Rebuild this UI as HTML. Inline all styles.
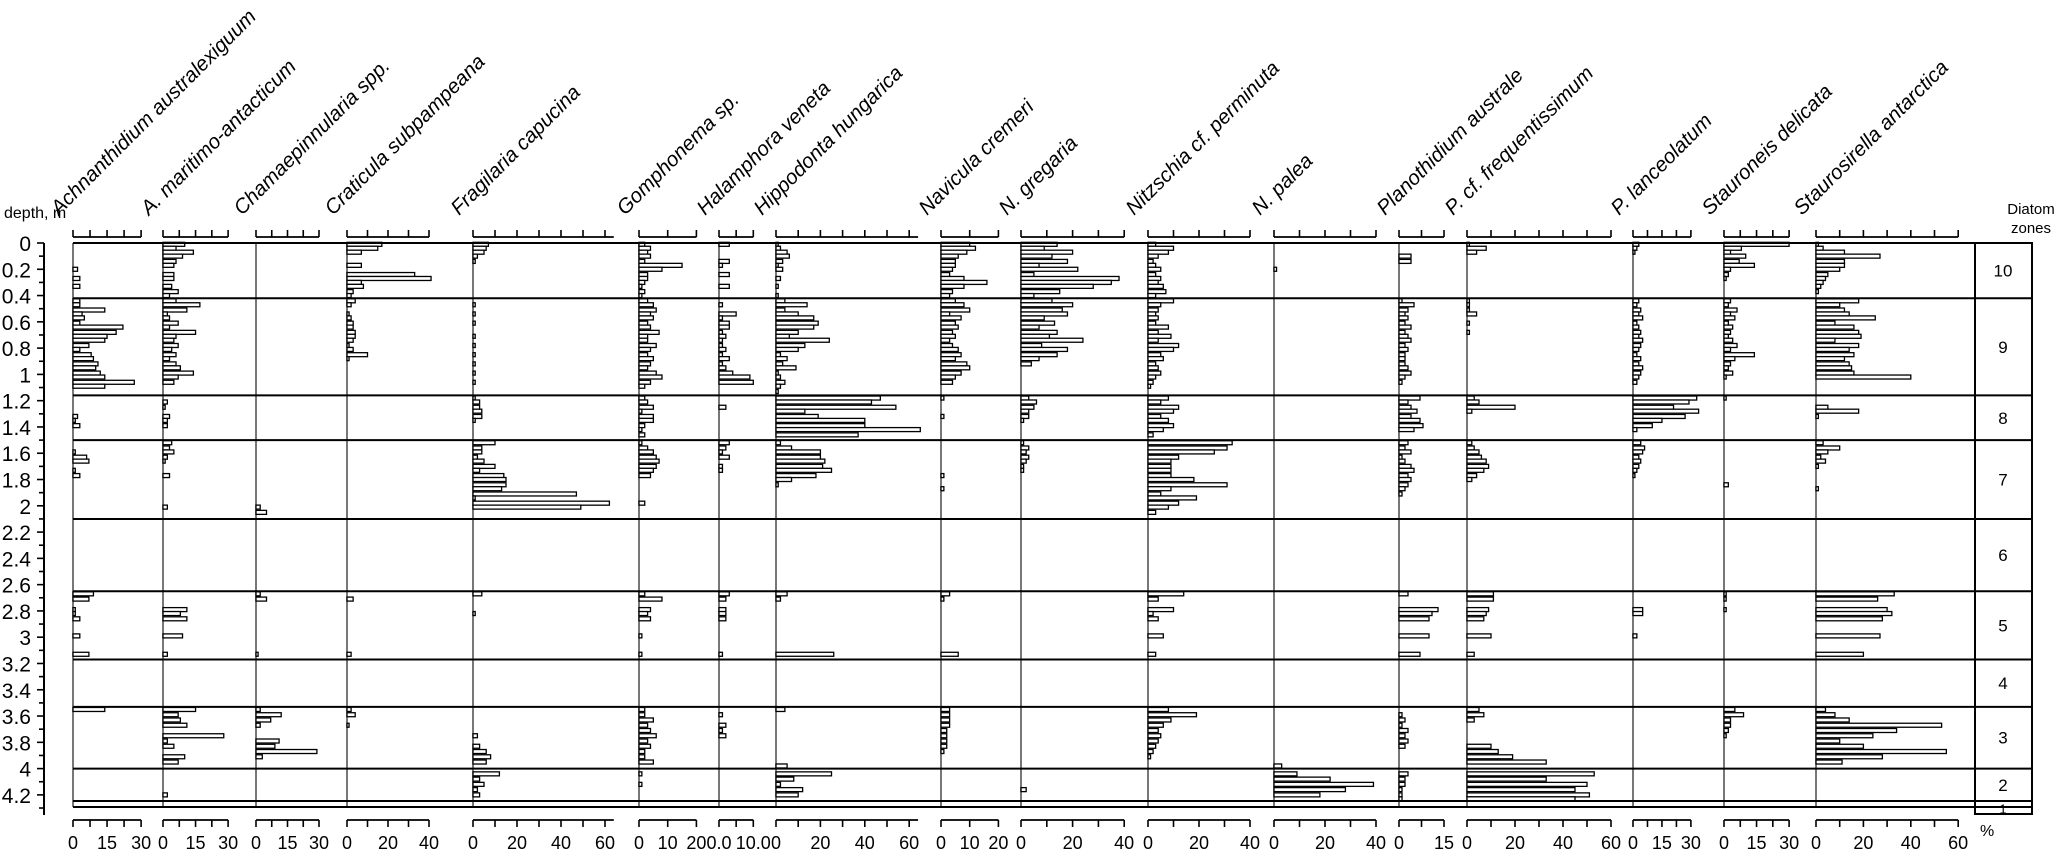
<!DOCTYPE html>
<html><head><meta charset="utf-8"><style>
html,body{margin:0;padding:0;background:#fff;}
svg{display:block;font-family:"Liberation Sans",sans-serif;}
</style></head><body>
<svg id="chart" width="2067" height="864" viewBox="0 0 2067 864" xmlns="http://www.w3.org/2000/svg"></svg>
<script>
// sample depths (m), grouped by diatom zone: Z10, Z9, Z8, Z7, Z5, Z3, Z2
const depths = [
 0.01,0.04,0.07,0.10,0.14,0.17,0.20,0.24,0.27,0.30,0.33,0.37,0.40,
 0.44,0.47,0.51,0.54,0.57,0.61,0.64,0.68,0.71,0.74,0.78,0.81,0.85,0.88,0.92,0.95,0.99,1.02,1.06,1.09,1.13,
 1.18,1.21,1.25,1.28,1.32,1.35,1.39,1.42,1.46,
 1.52,1.56,1.59,1.63,1.66,1.70,1.73,1.77,1.80,1.84,1.87,1.91,1.94,1.98,2.01,2.05,
 2.67,2.71,2.79,2.82,2.86,2.99,3.13,
 3.55,3.59,3.63,3.67,3.71,3.75,3.79,3.83,3.87,3.91,3.95,3.98,
 4.04,4.08,4.12,4.16,4.20,4.23];
const speciesNames = ["Achnanthidium australexiguum","A. maritimo-antacticum","Chamaepinnularia spp.","Craticula subpampeana","Fragilaria capucina","Gomphonema sp.","Halamphora veneta","Hippodonta hungarica","Navicula cremeri","N. gregaria","Nitzschia cf. perminuta","N. palea","Planothidium australe","P. cf. frequentissimum","P. lanceolatum","Stauroneis delicata","Staurosirella antarctica"];
const vAchn = [0,0,0,0,0,0,2,0,3,0,3,0,0, 3,3,14,4,5,3,22,19,15,14,7,3,8,9,11,10,12,14,27,14,0, 0,0,0,0,2,1,3,0,0, 0,0,1,6,7,0,1,3,0,0,0,0,0,0,0,0, 9,7,1,1,3,3,7, 14,0,0,0,0,0,0,0,0,0,0,0, 0,0,0,0,0,0];
const vAmar = [10,6,14,9,6,5,0,5,5,0,4,7,3, 6,17,11,2,3,7,3,15,6,5,7,4,6,3,6,8,14,7,5,0,0, 0,2,1,0,3,2,2,0,0, 4,3,5,2,1,0,0,3,0,0,0,0,0,0,2,0, 0,0,11,8,11,9,2, 15,7,8,11,0,28,2,5,0,10,7,0, 0,0,0,0,2,0];
const vCham = [0,0,0,0,0,0,0,0,0,0,0,0,0, 0,0,0,0,0,0,0,0,0,0,0,0,0,0,0,0,0,0,0,0,0, 0,0,0,0,0,0,0,0,0, 0,0,0,0,0,0,0,0,0,0,0,0,0,0,2,5, 2,5,0,0,0,0,1, 2,12,7,2,0,0,11,9,29,3,0,0, 0,0,0,0,0,0];
const vCrat = [17,15,7,0,0,7,0,33,41,7,8,3,2, 4,2,0,1,2,3,3,4,4,3,1,3,10,1,0,0,0,0,0,0,0, 0,0,0,0,0,0,0,0,0, 0,0,0,0,0,0,0,0,0,0,0,0,0,0,0,0, 0,3,0,0,0,0,2, 2,4,0,1,0,0,0,0,0,0,0,0, 0,0,0,0,0,0];
const vFrag = [7,6,5,2,1,0,0,0,0,0,0,0,0, 0,1,0,1,0,1,0,0,1,0,1,0,1,0,1,0,1,0,1,0,0, 1,3,3,4,4,1,0,0,0, 10,4,4,2,5,10,3,14,15,15,13,47,1,62,49,0, 4,0,0,1,0,0,0, 0,0,0,0,0,2,0,3,6,8,6,0, 12,3,5,2,3,0];
const vGomp = [2,4,3,4,2,15,8,3,3,2,1,2,1, 3,5,6,4,5,3,4,7,3,3,6,4,3,5,4,3,6,8,4,2,0, 2,3,5,1,5,5,2,1,2, 1,3,5,6,7,6,5,4,0,0,0,0,0,2,0,0, 2,8,4,3,4,1,1, 2,2,5,3,4,6,3,4,2,2,5,0, 1,0,1,0,0,0];
const vHala = [3,0,0,0,3,1,0,3,0,0,3,0,0, 0,1,0,5,1,3,3,1,2,1,1,2,1,3,1,2,4,9,10,0,0, 0,0,2,0,0,0,0,0,0, 3,2,1,3,0,1,1,0,0,0,0,0,0,0,0,0, 3,2,2,2,2,0,1, 0,1,0,2,1,2,0,0,0,0,0,0, 0,0,0,0,0,0];
const vHipp = [1,2,5,6,3,1,3,0,2,0,1,0,1, 4,14,4,10,17,19,17,10,6,24,13,10,2,5,3,9,1,2,4,2,1, 47,43,54,13,19,40,40,65,37, 2,7,20,20,22,21,25,18,7,1,0,0,0,0,0,0, 5,2,0,0,0,0,26, 4,0,0,0,0,0,0,0,0,0,0,5, 25,8,2,12,10,0];
const vNavi = [10,12,9,6,5,5,4,3,8,16,8,4,3, 5,8,10,3,7,5,6,4,5,3,4,6,7,5,9,10,7,5,4,0,0, 1,0,0,0,1,0,0,0,0, 0,0,0,0,0,0,0,1,0,0,1,0,0,0,0,0, 3,1,0,0,0,0,6, 3,3,3,3,2,2,2,2,1,0,0,0, 0,0,0,0,0,0];
const vNgre = [14,9,20,12,18,7,22,5,38,35,28,15,5, 12,20,16,18,9,13,7,14,11,24,8,18,14,7,4,0,0,0,0,0,0, 3,6,5,3,3,1,0,0,0, 1,3,2,3,2,1,1,0,0,0,0,0,0,0,0,0, 0,0,0,0,0,0,0, 0,0,0,0,0,0,0,0,0,0,0,0, 0,0,0,2,0,0];
const vNitz = [3,10,8,4,2,3,5,3,5,4,6,7,3, 10,5,4,3,4,3,8,4,9,4,12,10,5,6,3,4,5,3,2,1,0, 8,5,12,10,5,8,10,6,2, 33,31,26,12,9,9,9,9,18,31,9,5,19,12,8,3, 14,4,10,2,4,6,3, 8,19,9,6,4,5,4,3,2,1,0,0, 0,0,0,0,0,0];
const vNpal = [0,0,0,0,0,0,1,0,0,0,0,0,0, 0,0,0,0,0,0,0,0,0,0,0,0,0,0,0,0,0,0,0,0,0, 0,0,0,0,0,0,0,0,0, 0,0,0,0,0,0,0,0,0,0,0,0,0,0,0,0, 0,0,0,0,0,0,0, 0,0,0,0,0,0,0,0,0,0,0,3, 9,22,39,28,18,0];
const vPlan = [0,0,0,4,4,0,0,0,0,0,0,0,0, 1,5,3,2,3,2,4,2,3,4,2,3,2,2,2,3,4,2,1,0,0, 7,3,4,6,4,7,8,5,0, 3,2,4,1,2,4,5,3,4,3,2,1,0,0,0,0, 3,0,13,11,10,10,7, 0,1,2,1,3,2,3,2,0,0,0,0, 3,2,2,1,1,1];
const vPfre = [1,8,4,0,0,0,0,0,0,0,0,0,0, 1,1,1,4,0,1,0,1,0,0,0,0,0,0,0,0,0,0,0,0,0, 3,5,20,2,0,0,0,0,0, 2,3,5,6,8,9,7,4,2,0,0,0,0,0,0,0, 11,11,9,8,7,10,3, 5,7,3,0,0,0,0,10,13,19,33,0, 53,33,50,45,51,45];
const vPlnc = [3,2,1,0,0,0,0,0,0,0,0,0,0, 3,2,4,3,5,2,3,4,3,5,4,3,2,4,3,5,4,3,2,0,0, 33,29,21,34,27,15,10,2,0, 4,6,5,3,4,3,2,1,0,0,0,0,0,0,0,0, 0,0,5,5,0,2,0, 0,0,0,0,0,0,0,0,0,0,0,0, 0,0,0,0,0,0];
const vStne = [30,8,3,10,7,14,3,2,1,0,0,0,0, 3,2,6,3,5,2,4,3,2,4,6,3,14,5,3,2,4,1,0,0,0, 1,0,0,0,0,0,0,0,0, 0,0,0,0,0,0,0,0,0,2,0,0,0,0,0,0, 1,1,1,0,0,0,0, 5,9,3,3,2,1,0,0,0,0,0,0, 0,0,0,0,0,0];
const vStsi = [1,3,12,27,12,12,10,5,4,3,2,1,0, 18,10,12,14,25,8,16,18,19,8,18,14,16,12,14,15,16,40,0,0,0, 0,0,5,18,1,0,0,0,0, 3,10,5,2,4,1,0,0,0,0,1,0,0,0,0,0, 33,26,30,32,28,27,20, 4,8,14,53,34,24,10,20,55,28,11,0, 0,0,0,0,0,0];
const speciesValues = [vAchn,vAmar,vCham,vCrat,vFrag,vGomp,vHala,vHipp,vNavi,vNgre,vNitz,vNpal,vPlan,vPfre,vPlnc,vStne,vStsi];
// axis settings per panel: max axis value, tick step, tick labels
const axisMax = [30,30,30,40,64,20,10,64,20,40,40,40,15,60,30,30,60];
const tickStep = [7.5,7.5,7.5,10,10,10,5,10,10,10,10,10,7.5,10,7.5,7.5,10];
const tickLabels = [[0,15,30],[0,15,30],[0,15,30],[0,20,40],[0,20,40,60],[0,10,20],["0.0","10.0"],[0,20,40,60],[0,10,20],[0,20,40],[0,20,40],[0,20,40],[0,15],[0,20,40,60],[0,15,30],[0,15,30],[0,20,40,60]];
const zoneBounds = [0,0.42,1.16,1.5,2.1,2.65,3.17,3.53,4.0,4.25,4.33];
const zoneNames = ["10","9","8","7","6","5","4","3","2","1"];

const svg = document.getElementById('chart');
const NS = "http://www.w3.org/2000/svg";
const panelX0 = [73,163,256,347,473,639,719,776,941,1021,1148,1274,1399,1467,1633,1724,1816];
const pxPer = [2.27,2.17,2.1,2.05,2.2,2.87,3.43,2.22,2.87,2.58,2.55,2.55,3.0,2.4,1.93,2.17,2.37];
const yTop = 243, pxM = 131.4;
const yD = d => yTop + d*pxM;
const yBot = 807, zoneL = 1975, zoneR = 2032;
function mk(tag, attrs, parent){ const e=document.createElementNS(NS,tag); for(const k in attrs) e.setAttribute(k,attrs[k]); (parent||svg).appendChild(e); return e; }

// depth axis
const dax = mk('g',{});


mk('line',{x1:44,y1:yTop,x2:44,y2:815,stroke:'#000','stroke-width':2},dax);
for(let i=0;i<=43;i++){
  const d=i/10, y=yD(d), major=i%2===0;
  mk('line',{x1:major?37:39,y1:y,x2:44,y2:y,stroke:'#000','stroke-width':1.6},dax);
  if(major && d<=4.2+1e-9){
    const t=mk('text',{x:31,y:y+8,'text-anchor':'end','font-size':21},dax);
    t.textContent = (Math.round(d*10)/10).toString();
    
    
  }
}
const dt = mk('text',{x:4,y:218,'font-size':16},dax);
dt.textContent='depth, m';



// panels
speciesNames.forEach((name,i)=>{
  const g=mk('g',{});
  
  
  const x0=panelX0[i], s=pxPer[i];
  const xv=v=>x0+v*s;
  mk('line',{x1:x0,y1:yTop,x2:x0,y2:yBot,stroke:'#555','stroke-width':1.6},g);
  speciesValues[i].forEach((v,j)=>{
    if(v<=0) return;
    const r=mk('rect',{x:x0,y:yD(depths[j])-2,width:Math.max(v*s,1.5),height:4,fill:'#fff',stroke:'#000','stroke-width':1.3},g);
    
    
  });
  const amax=axisMax[i];
  [[237,-7],[820,7]].forEach(([ay,dir])=>{
    mk('line',{x1:x0,y1:ay,x2:xv(amax),y2:ay,stroke:'#000','stroke-width':1.8},g);
    for(let v=0; v<=amax+1e-6; v+=tickStep[i]){
      mk('line',{x1:xv(v),y1:ay,x2:xv(v),y2:ay+dir,stroke:'#000','stroke-width':1.6},g);
    }
  });
  tickLabels[i].forEach(lab=>{
    const t=mk('text',{x:xv(parseFloat(lab)),y:849,'text-anchor':'middle','font-size':18},g);
    t.textContent=lab;
    
    
  });
  const tt=mk('text',{x:0,y:0,'font-size':20.5,'font-style':'italic',transform:`translate(${x0-14},216) rotate(-45)`},g);
  tt.textContent=name;
  
  
});

// zone lines
const zg=mk('g',{});


zoneBounds.forEach((b,k)=>{
  let y = k===zoneBounds.length-1 ? yBot : yD(b);
  if(k===zoneBounds.length-2) y=801;
  mk('line',{x1:73,y1:y,x2:zoneR,y2:y,stroke:'#000','stroke-width':2},zg);
});
mk('rect',{x:zoneL,y:yTop,width:zoneR-zoneL,height:814-yTop,fill:'none',stroke:'#000','stroke-width':2},zg);
zoneNames.forEach((z,k)=>{
  let y1=yD(zoneBounds[k]), y2=yD(zoneBounds[k+1]);
  if(k===8) y2=801;
  if(k===9){y1=801;y2=814;}
  const t=mk('text',{x:2003,y:(y1+y2)/2+6,'text-anchor':'middle','font-size':k===9?13:17},zg);
  t.textContent=z;
  
  
});
const h1=mk('text',{x:2031,y:214,'text-anchor':'middle','font-size':15});
h1.textContent='Diatom';


const h2=mk('text',{x:2031,y:233,'text-anchor':'middle','font-size':15});
h2.textContent='zones';


const pc=mk('text',{x:1980,y:836,'font-size':16});
pc.textContent='%';


</script>
</body></html>
